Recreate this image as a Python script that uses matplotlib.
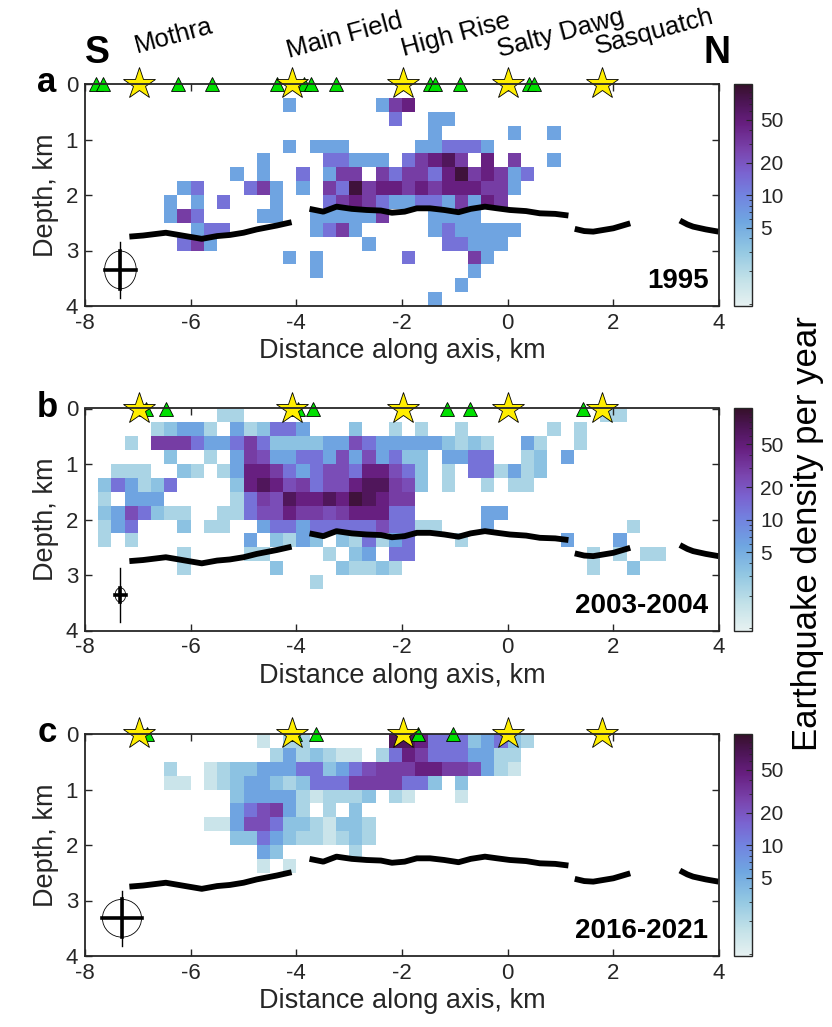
import numpy as np
import matplotlib
matplotlib.use("Agg")
import matplotlib.pyplot as plt
from matplotlib.colors import LinearSegmentedColormap, LogNorm
from matplotlib.patches import Ellipse
from matplotlib.ticker import FixedLocator, NullFormatter

plt.rcParams['font.family'] = ['Liberation Sans', 'DejaVu Sans']
plt.rcParams['axes.unicode_minus'] = False
TXT = '#262626'

# ---------------- data ----------------
# colour codes 0-9 -> earthquake density per year
level_values = [1.5, 2.3, 3.4, 6.0, 13.0, 23.0, 29.0, 45.0, 68.0, 92.0]

# rows: depth bin index (0.25 km) -> {distance bin index (0.25 km from -8 km): colour code}
cells_1995 = {
    1: {15: 3, 22: 3, 23: 6, 24: 7},
    2: {23: 4, 26: 3, 27: 3},
    3: {26: 3, 32: 3, 35: 3},
    4: {15: 3, 17: 3, 18: 3, 19: 3, 25: 3, 26: 3, 27: 4, 28: 4, 29: 4, 30: 3},
    5: {13: 3, 18: 4, 19: 4, 20: 3, 21: 3, 22: 3, 24: 4, 25: 6, 26: 7, 27: 8, 28: 6, 30: 7, 32: 6, 35: 3},
    6: {11: 3, 13: 3, 16: 4, 18: 3, 19: 6, 20: 6, 22: 6, 23: 4, 24: 6, 25: 6, 26: 4, 27: 7, 28: 9,
        29: 6, 30: 7, 31: 6, 32: 3, 33: 4},
    7: {7: 3, 8: 4, 12: 4, 13: 6, 14: 3, 16: 3, 18: 6, 19: 4, 20: 9, 21: 6, 22: 7, 23: 7, 24: 6,
        25: 7, 26: 6, 27: 7, 28: 7, 29: 7, 30: 6, 31: 6, 32: 3},
    8: {6: 3, 8: 3, 10: 4, 14: 3, 18: 4, 19: 6, 20: 7, 21: 6, 22: 4, 23: 3, 24: 3, 25: 4, 26: 4,
        27: 3, 28: 6, 29: 3, 30: 7, 31: 6},
    9: {6: 3, 7: 6, 8: 4, 13: 3, 14: 3, 17: 3, 18: 3, 19: 3, 20: 3, 21: 3, 22: 6, 26: 3, 27: 3,
        28: 3, 29: 3},
    10: {8: 3, 9: 4, 10: 4, 17: 3, 18: 4, 19: 6, 20: 3, 26: 3, 27: 4, 28: 3, 29: 3, 30: 3, 31: 3, 32: 3},
    11: {7: 4, 8: 6, 9: 3, 21: 3, 27: 4, 28: 4, 29: 3, 30: 3, 31: 3},
    12: {15: 3, 17: 3, 24: 4, 29: 6, 30: 3},
    13: {17: 3, 29: 3},
    14: {28: 3},
    15: {26: 3},
}

cells_2003 = {
    0: {10: 1, 11: 1, 39: 1, 40: 1},
    1: {5: 1, 6: 2, 7: 3, 8: 3, 9: 1, 11: 3, 12: 1, 13: 2, 14: 4, 15: 4, 16: 3, 20: 2, 23: 1,
        25: 1, 28: 1, 35: 1, 37: 1},
    2: {3: 1, 5: 6, 6: 6, 7: 6, 8: 4, 9: 3, 10: 3, 11: 4, 12: 6, 13: 4, 14: 2, 15: 2, 16: 2, 17: 2,
        18: 3, 19: 3, 20: 5, 21: 4, 22: 3, 23: 3, 24: 3, 25: 3, 26: 3, 27: 2, 28: 1, 29: 2, 30: 1,
        33: 3, 34: 1, 37: 1},
    3: {6: 2, 9: 1, 11: 3, 12: 6, 13: 5, 14: 3, 15: 3, 16: 4, 17: 4, 18: 3, 19: 5, 20: 3, 21: 5,
        22: 3, 23: 4, 24: 2, 25: 2, 27: 3, 28: 3, 29: 4, 30: 4, 33: 1, 34: 2, 36: 3},
    4: {2: 1, 3: 1, 4: 1, 7: 2, 8: 1, 10: 1, 11: 3, 12: 7, 13: 7, 14: 6, 15: 4, 16: 3, 17: 4, 18: 5,
        19: 5, 20: 4, 21: 7, 22: 7, 23: 5, 24: 4, 25: 2, 27: 1, 29: 4, 30: 4, 31: 1, 32: 3, 33: 1, 34: 2},
    5: {1: 2, 2: 4, 3: 3, 4: 1, 5: 2, 6: 4, 11: 2, 12: 7, 13: 8, 14: 7, 15: 5, 16: 6, 17: 4, 18: 5,
        19: 5, 20: 7, 21: 8, 22: 8, 23: 6, 24: 5, 25: 2, 27: 1, 30: 1, 32: 1, 33: 1},
    6: {1: 1, 3: 3, 4: 3, 5: 3, 11: 1, 12: 4, 13: 6, 14: 5, 15: 8, 16: 7, 17: 7, 18: 8, 19: 7,
        20: 9, 21: 8, 22: 7, 23: 6, 24: 6},
    7: {1: 2, 2: 3, 3: 5, 4: 4, 5: 2, 6: 1, 7: 1, 10: 1, 11: 1, 12: 4, 13: 5, 14: 5, 15: 7, 16: 6,
        17: 6, 18: 5, 19: 6, 20: 7, 21: 7, 22: 7, 23: 4, 24: 4, 30: 3, 31: 3},
    8: {1: 1, 2: 3, 3: 4, 7: 2, 9: 1, 10: 1, 13: 3, 14: 4, 15: 4, 16: 3, 17: 4, 18: 4, 19: 4,
        20: 4, 21: 4, 22: 5, 23: 4, 24: 4, 25: 1, 26: 1, 30: 3, 41: 1},
    9: {1: 1, 3: 1, 12: 3, 14: 2, 15: 1, 16: 3, 17: 2, 19: 2, 20: 1, 21: 4, 22: 1, 23: 3, 24: 4,
        28: 1, 36: 3, 40: 3},
    10: {7: 1, 12: 1, 13: 1, 18: 1, 20: 2, 21: 3, 23: 4, 24: 4, 38: 1, 40: 1, 42: 1, 43: 1},
    11: {7: 1, 14: 2, 19: 2, 20: 1, 21: 1, 22: 2, 23: 1, 38: 1, 41: 2},
    12: {17: 1},
}

cells_2016 = {
    0: {13: 0, 15: 1, 16: 1, 23: 8, 24: 8, 25: 7, 26: 4, 27: 4, 28: 4, 29: 2, 30: 3, 31: 4, 32: 2, 33: 1},
    1: {14: 1, 15: 3, 16: 1, 17: 2, 18: 1, 19: 0, 20: 0, 22: 1, 23: 4, 24: 7, 25: 6, 26: 4, 27: 4,
        28: 4, 29: 3, 30: 3, 31: 1, 32: 1},
    2: {6: 1, 9: 0, 10: 1, 11: 2, 12: 2, 13: 3, 14: 3, 15: 3, 16: 4, 17: 4, 18: 2, 19: 3, 20: 4,
        21: 5, 22: 6, 23: 6, 24: 6, 25: 7, 26: 7, 27: 6, 28: 6, 29: 5, 30: 3, 31: 1, 32: 0},
    3: {6: 0, 7: 0, 9: 0, 10: 1, 11: 2, 12: 3, 13: 3, 14: 2, 15: 1, 16: 2, 17: 4, 18: 4, 19: 4,
        20: 6, 21: 6, 22: 6, 23: 6, 24: 4, 25: 4, 26: 2, 28: 2},
    4: {11: 2, 12: 3, 13: 3, 14: 3, 15: 3, 16: 1, 17: 0, 18: 1, 19: 1, 20: 1, 21: 2, 23: 1, 24: 0, 28: 0},
    5: {11: 3, 12: 4, 13: 5, 14: 6, 15: 3, 16: 1, 18: 1, 20: 2},
    6: {9: 0, 10: 0, 11: 3, 12: 5, 13: 5, 14: 4, 15: 2, 16: 2, 17: 1, 18: 0, 19: 2, 20: 2, 21: 1},
    7: {11: 2, 12: 2, 13: 4, 14: 3, 15: 2, 16: 1, 17: 1, 18: 0, 19: 1, 20: 2, 21: 1},
    8: {13: 3, 14: 2, 20: 1},
    9: {13: 0, 15: 0},
}

period_labels = ['1995', '2003-2004', '2016-2021']
panel_letters = ['a', 'b', 'c']

vent_names = ['Mothra', 'Main Field', 'High Rise', 'Salty Dawg', 'Sasquatch']
vent_x = [-6.97, -4.08, -1.99, 0.01, 1.78]

triangles_x = [
    [-7.79, -7.66, -6.24, -5.60, -4.37, -3.86, -3.72, -3.24, -1.47, -1.37, -0.90, 0.40, 0.49],
    [-6.85, -6.47, -3.96, -3.68, -1.15, -0.71, 1.43],
    [-6.82, -4.02, -3.63, -1.69, -1.04],
]

# axial magma chamber reflector (depth km) along axis
amc_segments = [
    ([-7.16, -6.90, -6.47, -6.10, -5.79, -5.50, -5.26, -5.00, -4.75, -4.37, -4.09],
     [2.75, 2.73, 2.68, 2.74, 2.79, 2.74, 2.72, 2.68, 2.62, 2.55, 2.49]),
    ([-3.75, -3.49, -3.24, -2.95, -2.67, -2.40, -2.19, -1.95, -1.72, -1.47, -1.20, -0.93, -0.70,
      -0.43, -0.20, 0.04, 0.35, 0.61, 0.90, 1.15],
     [2.25, 2.30, 2.21, 2.25, 2.27, 2.28, 2.32, 2.30, 2.24, 2.24, 2.27, 2.31, 2.25, 2.21, 2.24,
      2.27, 2.29, 2.33, 2.34, 2.37]),
    ([1.27, 1.45, 1.62, 2.00, 2.32], [2.61, 2.65, 2.66, 2.60, 2.51]),
    ([3.26, 3.40, 3.51, 3.75, 3.99], [2.46, 2.53, 2.57, 2.62, 2.66]),
]

# location error symbols: centre, half-axes of ellipse, half-length of vertical bar
err_x = [-7.33, -7.33, -7.30]
err_d = [3.35, 3.36, 3.32]
err_hx = [0.30, 0.10, 0.37]
err_hd = [0.34, 0.13, 0.34]
err_bar = [0.51, 0.49, 0.50]

# ---------------- style ----------------
dense = LinearSegmentedColormap.from_list('dense_like', [
    (0.00, '#e6f1f1'), (0.12, '#c2e1e8'), (0.25, '#92c7e2'), (0.38, '#6fa6e1'),
    (0.50, '#7283e0'), (0.60, '#7a63d0'), (0.70, '#7a45ae'), (0.82, '#671f80'),
    (0.92, '#4c1555'), (1.00, '#36102a')])
norm = LogNorm(vmin=0.95, vmax=107)

W, H = 832, 1027
fig = plt.figure(figsize=(W / 100, H / 100), dpi=100)

x_edges = np.linspace(-8, 4, 49)
d_edges = np.linspace(0, 4, 17)

ax_tops = [84, 408.5, 734]
ax_h = 222
left, right = 85, 719

for i, cells in enumerate([cells_1995, cells_2003, cells_2016]):
    top = ax_tops[i]
    ax = fig.add_axes([left / W, 1 - (top + ax_h) / H, (right - left) / W, ax_h / H])
    grid = np.full((16, 48), np.nan)
    for r, row in cells.items():
        for c, code in row.items():
            grid[r, c] = level_values[code]
    mesh = ax.pcolormesh(x_edges, d_edges, np.ma.masked_invalid(grid), cmap=dense, norm=norm,
                         shading='flat', edgecolors='none', zorder=1)
    for sx, sd in amc_segments:
        ax.plot(sx, sd, color='black', lw=4.2, solid_capstyle='butt', zorder=3)
    # error symbol
    ax.add_patch(Ellipse((err_x[i], err_d[i]), 2 * err_hx[i], 2 * err_hd[i], fill=False,
                         ec='black', lw=0.6, zorder=4))
    ax.plot([err_x[i], err_x[i]], [err_d[i] - err_bar[i], err_d[i] + err_bar[i]], color='black',
            lw=1.0, zorder=4)
    ax.plot([err_x[i], err_x[i]], [err_d[i] - err_hd[i], err_d[i] + err_hd[i]], color='black',
            lw=2.6, zorder=4)
    ax.plot([err_x[i] - err_hx[i], err_x[i] + err_hx[i]], [err_d[i], err_d[i]], color='black',
            lw=2.6, zorder=4)

    ax.plot(triangles_x[i], [0] * len(triangles_x[i]), linestyle='none', marker='^', ms=10,
            mfc='#00e000', mec='black', mew=0.6, clip_on=False, zorder=5)
    ax.plot(vent_x, [0] * len(vent_x), linestyle='none', marker='*', ms=24,
            mfc='#ffee00', mec='black', mew=0.6, clip_on=False, zorder=6)

    ax.set_xlim(-8, 4)
    ax.set_ylim(4, 0)
    ax.set_xticks([-8, -6, -4, -2, 0, 2, 4])
    ax.set_yticks([0, 1, 2, 3, 4])
    ax.tick_params(direction='in', length=5, width=1.0, top=True, right=True, labelsize=16,
                   colors=TXT, pad=5)
    for sp in ax.spines.values():
        sp.set_color(TXT)
        sp.set_linewidth(1.3)
        sp.set_zorder(7)
    ax.set_xlabel('Distance along axis, km', fontsize=19.5, color=TXT, labelpad=3)
    ax.set_ylabel('Depth, km', fontsize=19.5, color=TXT, labelpad=5)
    ax.text(3.8, 3.55, period_labels[i], ha='right', va='center', fontsize=20,
            fontweight='bold', color='black', zorder=8)
    fig.text(47 / W, 1 - (top - 1) / H, panel_letters[i], ha='center', va='center',
             fontsize=25, fontweight='bold', color='black')

    cax = fig.add_axes([734 / W, 1 - (top + ax_h) / H, 18 / W, ax_h / H])
    cb = fig.colorbar(mesh, cax=cax)
    cb.set_ticks([5, 10, 20, 50])
    cb.set_ticklabels(['5', '10', '20', '50'])
    cax.yaxis.set_minor_locator(FixedLocator([1, 2, 3, 4, 6, 7, 8, 9, 30, 40, 60, 70, 80, 90, 100]))
    cax.yaxis.set_minor_formatter(NullFormatter())
    cax.tick_params(which='major', direction='in', length=4, width=0.8, labelsize=15,
                    colors=TXT, pad=6)
    cax.tick_params(which='minor', direction='in', length=2, width=0.6, colors=TXT)
    cb.outline.set_edgecolor(TXT)
    cb.outline.set_linewidth(1.0)

# header labels
fig.text(97 / W, 1 - 53 / H, 'S', ha='center', va='center', fontsize=27, fontweight='bold')
fig.text(717 / W, 1 - 53 / H, 'N', ha='center', va='center', fontsize=27, fontweight='bold')
name_pos = [(174, 36), (345, 36), (456, 35), (561, 34), (654, 32)]
for name, (px, py) in zip(vent_names, name_pos):
    fig.text(px / W, 1 - py / H, name, ha='center', va='center', fontsize=18.5, rotation=15,
             color='black')

fig.text(807 / W, 1 - 534 / H, 'Earthquake density per year', ha='center', va='center',
         rotation=90, fontsize=25, color='black')

fig.savefig('out.png', dpi=100)
